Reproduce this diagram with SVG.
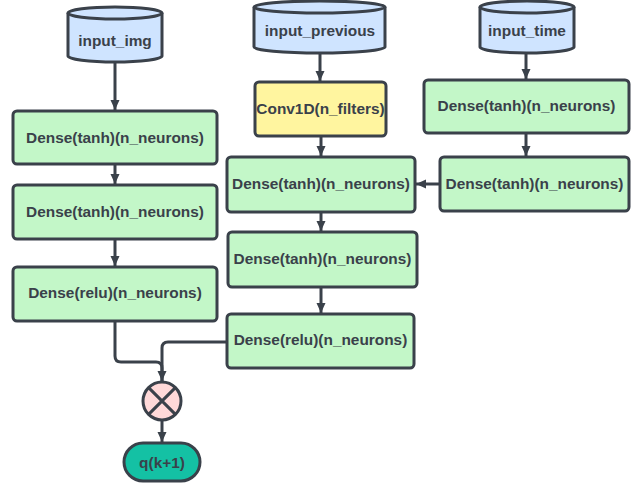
<svg xmlns="http://www.w3.org/2000/svg" width="644" height="487" viewBox="0 0 644 487">
<style>
.box{fill:#c3f7c8;stroke:#3a414a;stroke-width:3}
.conv{fill:#fff59f;stroke:#3a414a;stroke-width:3}
.db{fill:#cfe4ff;stroke:#3a414a;stroke-width:3}
.t{font-family:"Liberation Sans",Arial,sans-serif;font-weight:bold;font-size:15.4px;fill:#3a414a;text-anchor:middle}
.c{fill:none;stroke:#3a414a;stroke-width:3}
</style>
<defs>
<marker id="ah" markerUnits="userSpaceOnUse" markerWidth="12" markerHeight="12" viewBox="0 0 12 12" refX="11" refY="6" orient="auto">
<path d="M1,1.5 L11,6 L1,10.5 Z" fill="#3a414a"/>
</marker>
</defs>
<rect width="644" height="487" fill="#ffffff"/>
<g id="connectors">
<path class="c" d="M115,63 V110" marker-end="url(#ah)"/>
<path class="c" d="M115,165 V184" marker-end="url(#ah)"/>
<path class="c" d="M115,239 V266" marker-end="url(#ah)"/>
<path class="c" d="M320,53 V81" marker-end="url(#ah)"/>
<path class="c" d="M321,136 V156" marker-end="url(#ah)"/>
<path class="c" d="M321,212 V231" marker-end="url(#ah)"/>
<path class="c" d="M321,287 V313" marker-end="url(#ah)"/>
<path class="c" d="M526,53 V79" marker-end="url(#ah)"/>
<path class="c" d="M526,133 V156" marker-end="url(#ah)"/>
<path class="c" d="M440,184 H416" marker-end="url(#ah)"/>
<path class="c" d="M115,321 V356 Q115,362 121,362 H156 Q162,362 162,368 V381" marker-end="url(#ah)"/>
<path class="c" d="M227,342 H168 Q162,342 162,348 V381"/>
<path class="c" d="M162,420 V442" marker-end="url(#ah)"/>
</g>
<g id="input_img">
<path class="db" d="M68,13 V56 A47,6 0 0 0 162,56 V13"/>
<ellipse class="db" cx="115" cy="13" rx="47" ry="6"/>
<text class="t" x="115" y="46">input_img</text>
</g>
<g id="input_previous">
<path class="db" d="M254,7 V47 A65.5,6 0 0 0 385,47 V7"/>
<ellipse class="db" cx="319.5" cy="7" rx="65.5" ry="6"/>
<text class="t" x="320" y="36">input_previous</text>
</g>
<g id="input_time">
<path class="db" d="M480,7 V47 A47,6 0 0 0 574,47 V7"/>
<ellipse class="db" cx="527" cy="7" rx="47" ry="6"/>
<text class="t" x="527" y="36">input_time</text>
</g>
<g id="left_dense1">
<rect class="box" x="13" y="111" width="204" height="53" rx="4"/>
<text class="t" x="115" y="143">Dense(tanh)(n_neurons)</text>
</g>
<g id="left_dense2">
<rect class="box" x="13" y="185" width="204" height="54" rx="4"/>
<text class="t" x="115" y="217">Dense(tanh)(n_neurons)</text>
</g>
<g id="left_dense3">
<rect class="box" x="13" y="267" width="204" height="54" rx="4"/>
<text class="t" x="115" y="298">Dense(relu)(n_neurons)</text>
</g>
<g id="conv1d">
<rect class="conv" x="255" y="82" width="131" height="54" rx="4"/>
<text class="t" x="320.5" y="114">Conv1D(n_filters)</text>
</g>
<g id="mid_dense1">
<rect class="box" x="227" y="157" width="188" height="55" rx="4"/>
<text class="t" x="321" y="189">Dense(tanh)(n_neurons)</text>
</g>
<g id="mid_dense2">
<rect class="box" x="228" y="232" width="189" height="55" rx="4"/>
<text class="t" x="322.5" y="264">Dense(tanh)(n_neurons)</text>
</g>
<g id="mid_dense3">
<rect class="box" x="227" y="314" width="187" height="54" rx="4"/>
<text class="t" x="320.5" y="345">Dense(relu)(n_neurons)</text>
</g>
<g id="right_dense1">
<rect class="box" x="424" y="80" width="205" height="53" rx="4"/>
<text class="t" x="526.5" y="111">Dense(tanh)(n_neurons)</text>
</g>
<g id="right_dense2">
<rect class="box" x="440" y="157" width="189" height="54" rx="4"/>
<text class="t" x="534.5" y="189">Dense(tanh)(n_neurons)</text>
</g>
<g id="multiply">
<circle cx="162" cy="401" r="19" fill="#ffd9d9" stroke="#3a414a" stroke-width="3"/>
<path d="M148.6,387.6 L175.4,414.4 M175.4,387.6 L148.6,414.4" stroke="#3a414a" stroke-width="3" fill="none"/>
</g>
<g id="output">
<rect x="124" y="443" width="76" height="38" rx="19" fill="#14c1a4" stroke="#3a414a" stroke-width="3"/>
<text class="t" x="162" y="467.5">q(k+1)</text>
</g>
</svg>
